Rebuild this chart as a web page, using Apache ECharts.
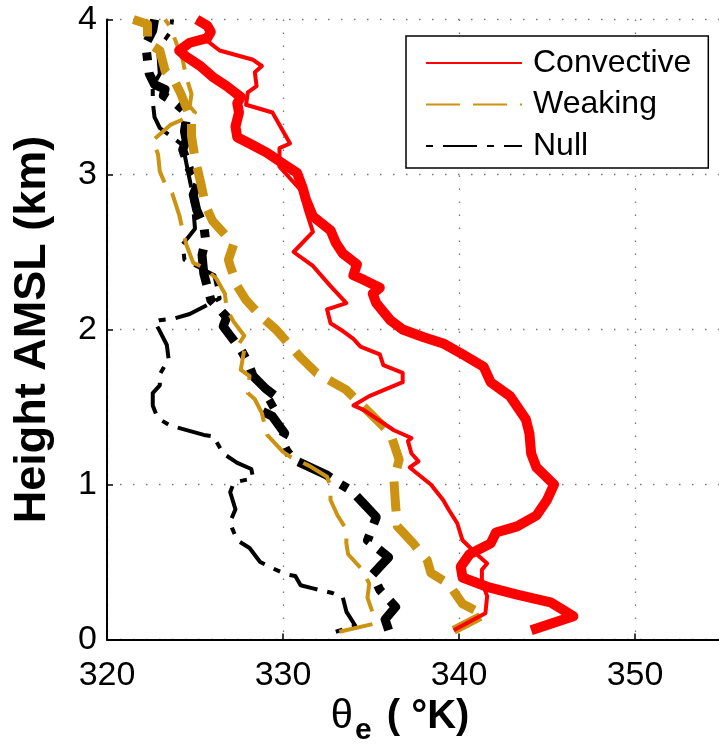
<!DOCTYPE html>
<html>
<head>
<meta charset="utf-8">
<script src="https://cdn.jsdelivr.net/npm/echarts@6/dist/echarts.min.js"></script>
<style>
html,body{margin:0;padding:0;background:#fff;}
#chart{width:719px;height:746px;}
</style>
</head>
<body>
<div id="chart"></div>
<script>
// ---- data (theta_e in K, height in km) ----
const xTicks = [320, 330, 340, 350];
const yTicks = [0, 1, 2, 3, 4];
const legendNames = ['Convective', 'Weaking', 'Null'];

const convThinT = [339.7,341.5,341.6,341.3,341.3,341.6,341.2,340.2,339.9,339.4,339.1,338.4,337.2,337.7,337.3,337.1,337.3,336.3,334.6,334.0,334.9,336.8,336.8,335.7,335.5,334.4,334.0,333.4,332.7,332.5,333.6,332.7,331.7,330.6,331.7,331.3,331.0,329.8,329.8,330.4,329.4,327.9,328.0,328.5,328.4,328.8,328.3,326.4,325.6,325.9,325.7,325.1];
const convThinH = [0.06,0.17,0.28,0.37,0.45,0.49,0.53,0.64,0.75,0.84,0.90,1.00,1.11,1.15,1.20,1.28,1.30,1.35,1.48,1.51,1.57,1.66,1.72,1.77,1.84,1.89,1.94,1.99,2.04,2.13,2.17,2.28,2.41,2.50,2.63,2.77,2.90,3.05,3.17,3.20,3.40,3.45,3.53,3.57,3.66,3.70,3.74,3.80,3.87,3.92,3.96,4.00];

const convThickT = [344.1,346.5,345.2,343.3,341.6,340.2,340.1,340.6,341.8,342.1,343.3,344.4,345.0,345.4,344.4,344.1,344.0,343.8,342.9,341.8,341.4,340.2,339.1,338.0,336.8,336.1,335.3,335.1,335.5,334.6,334.0,334.2,333.4,333.0,332.7,331.7,331.3,331.1,330.8,330.0,329.1,328.1,327.4,327.3,327.5,327.4,327.6,326.8,326.0,325.3,324.5,324.1,324.7,325.7,325.9,325.7,325.1];
const convThickH = [0.06,0.15,0.24,0.29,0.34,0.40,0.47,0.55,0.62,0.69,0.73,0.80,0.90,1.00,1.11,1.20,1.33,1.42,1.57,1.66,1.76,1.84,1.91,1.95,2.00,2.06,2.17,2.23,2.27,2.32,2.35,2.42,2.49,2.56,2.64,2.73,2.84,2.92,3.01,3.07,3.14,3.20,3.24,3.31,3.40,3.46,3.50,3.57,3.63,3.70,3.76,3.80,3.85,3.88,3.92,3.96,4.00];

const weakThinT = [333.2,335.1,335.1,334.8,334.9,334.5,333.7,333.6,333.6,333.1,332.7,332.7,332.5,331.5,330.4,330.0,329.1,328.8,328.4,328.0,328.1,327.6,327.8,327.4,327.8,327.2,326.8,326.7,326.2,325.5,324.9,324.5,324.3,324.1,323.7,323.3,323.0,322.9,322.6,323.6,324.2,325.0,324.7,324.8,324.5,324.3,324.1,323.6,323.3];
const weakThinH = [0.05,0.10,0.17,0.27,0.36,0.45,0.55,0.62,0.71,0.80,0.90,0.99,1.05,1.12,1.18,1.21,1.32,1.46,1.55,1.59,1.70,1.74,1.87,1.89,1.96,2.05,2.13,2.23,2.33,2.40,2.43,2.55,2.64,2.74,2.88,2.94,3.02,3.13,3.22,3.32,3.35,3.40,3.44,3.52,3.63,3.74,3.80,3.95,4.00];

const weakThickT = [339.7,341.4,340.2,339.4,338.4,338.2,337.4,336.5,336.4,336.3,336.6,336.1,335.3,334.4,333.6,331.9,331.0,329.6,328.7,327.9,327.4,327.0,326.9,327.2,326.0,325.6,325.3,325.0,324.8,324.8,324.2,323.9,323.3,323.0,322.3,322.3,321.5];
const weakThickH = [0.06,0.16,0.23,0.36,0.43,0.51,0.62,0.73,0.86,1.03,1.16,1.33,1.42,1.52,1.61,1.72,1.82,2.00,2.09,2.19,2.28,2.41,2.45,2.55,2.70,2.80,2.96,3.10,3.25,3.35,3.52,3.59,3.67,3.80,3.85,3.97,4.00];

const nullThinT = [333.0,334.1,333.6,333.4,332.8,331.7,331.0,330.7,330.2,329.4,328.7,328.1,327.4,327.1,327.0,327.3,327.0,327.2,327.5,328.3,328.2,327.4,326.6,326.2,326.1,325.5,323.6,323.0,322.8,322.6,322.6,323.0,323.0,323.5,323.4,323.0,322.7,323.0,323.8,324.7,326.4,326.1,324.4,324.3,325.0,324.9,324.8,324.3,323.7,323.0,322.7,322.6,322.6,323.0,322.9,323.3,323.6,323.7];
const nullThinH = [0.05,0.09,0.18,0.27,0.30,0.33,0.35,0.41,0.42,0.46,0.50,0.59,0.64,0.72,0.76,0.84,0.95,1.01,1.02,1.04,1.10,1.14,1.20,1.28,1.31,1.32,1.38,1.42,1.45,1.51,1.59,1.64,1.71,1.81,1.90,1.99,2.05,2.06,2.07,2.10,2.20,2.35,2.45,2.55,2.65,2.79,2.91,3.19,3.24,3.30,3.37,3.47,3.57,3.65,3.82,3.87,3.92,4.00];

const nullThickT = [336.0,335.8,336.4,335.5,335.1,335.5,336.0,334.8,335.0,335.3,333.9,333.0,332.5,330.6,330.2,329.9,330.1,329.4,328.7,329.8,329.0,328.3,328.0,327.6,326.6,326.8,326.4,325.9,325.5,325.4,325.6,325.5,325.1,324.9,325.2,324.7,324.3,324.5,324.4,324.5,324.3,323.9,323.2,323.3,322.7,322.4,322.3,322.2,322.6,322.7];
const nullThickH = [0.06,0.13,0.21,0.32,0.42,0.47,0.53,0.64,0.70,0.79,0.96,1.02,1.06,1.16,1.22,1.29,1.33,1.44,1.48,1.55,1.62,1.70,1.79,1.87,2.02,2.08,2.13,2.19,2.36,2.48,2.58,2.67,2.77,2.87,2.95,3.03,3.16,3.22,3.28,3.35,3.42,3.46,3.51,3.55,3.58,3.65,3.74,3.84,3.93,4.00];

// ---- styling ----
const FONT = 'Liberation Sans, Arial, Helvetica, sans-serif';
const RED = '#ff0000';
const GOLD = '#cc9211';
const BLACK = '#000000';

function pairs(T, H) { return T.map((t, i) => [t, H[i]]); }
function line(name, T, H, color, width, dash, z) {
  return {
    name: name, type: 'line', data: pairs(T, H),
    symbol: 'none', showSymbol: false, smooth: false, animation: false,
    clip: false, z: z,
    lineStyle: { color: color, width: width, type: dash, cap: 'butt', join: 'round' },
    itemStyle: { color: color },
    emphasis: { disabled: true }
  };
}

const dotted = { color: '#777', width: 1.3, type: [1.5, 11.5] };

const chart = echarts.init(document.getElementById('chart'), null, { renderer: 'canvas' });
chart.setOption({
  animation: false,
  backgroundColor: '#fff',
  grid: { left: 107, right: -4, top: 19.5, bottom: 106.5, containLabel: false, outerBoundsMode: 'none' },
  xAxis: {
    type: 'value', min: xTicks[0], max: 355, interval: 10,
    axisLine: { show: true, lineStyle: { color: BLACK, width: 2 } },
    axisTick: { show: true, inside: true, length: 6, lineStyle: { color: BLACK, width: 1.5 } },
    axisLabel: { show: true, color: BLACK, fontSize: 34, fontFamily: FONT, margin: 19, showMaxLabel: false,
                 formatter: v => (xTicks.indexOf(v) >= 0 ? String(v) : '') },
    splitLine: { show: true, lineStyle: dotted },
    name: '{a|θ}{b|e}{c| ( °K)}',
    nameLocation: 'middle', nameGap: 44,
    nameTextStyle: {
      padding: [0, 30, 0, 0],
      rich: {
        a: { fontSize: 40, fontFamily: FONT, color: BLACK },
        b: { fontSize: 30, fontFamily: FONT, fontWeight: 'bold', color: BLACK, padding: [26, 4, 0, 2] },
        c: { fontSize: 40, fontFamily: FONT, fontWeight: 'bold', color: BLACK }
      }
    }
  },
  yAxis: {
    type: 'value', min: yTicks[0], max: yTicks[yTicks.length - 1], interval: 1,
    axisLine: { show: true, lineStyle: { color: BLACK, width: 2 } },
    axisTick: { show: true, inside: true, length: 6, lineStyle: { color: BLACK, width: 1.5 } },
    axisLabel: { show: true, color: BLACK, fontSize: 34, fontFamily: FONT, margin: 10 },
    splitLine: { show: true, lineStyle: dotted },
    name: 'Height AMSL (km)', nameLocation: 'middle', nameRotate: 90, nameGap: 52,
    nameTextStyle: { fontSize: 45, fontWeight: 'bold', fontFamily: FONT, color: BLACK }
  },
  legend: {
    data: legendNames, orient: 'vertical', left: 406, top: 36,
    itemWidth: 96, itemHeight: 14, itemGap: 5.5,
    padding: [9, 17, 4, 19],
    borderColor: BLACK, borderWidth: 1.5, backgroundColor: '#fff',
    selectedMode: false,
    itemStyle: { color: 'rgba(0,0,0,0)', borderWidth: 0, opacity: 0 },
    textStyle: { fontSize: 32, fontFamily: FONT, color: BLACK, lineHeight: 36, padding: [0, 0, 0, 6] }
  },
  series: [
    line('Convective', convThinT, convThinH, RED, 4, 'solid', 5),
    line('Weaking', weakThinT, weakThinH, GOLD, 4, [34, 13], 4),
    line('Null', nullThinT, nullThinH, BLACK, 4, [7, 10, 34, 10], 3),
    line('Convective', convThickT, convThickH, RED, 10, 'solid', 5),
    line('Weaking', weakThickT, weakThickH, GOLD, 9, [30, 14], 4),
    line('Null', nullThickT, nullThickH, BLACK, 9, [36, 12, 8, 12], 3)
  ]
});
</script>
</body>
</html>
